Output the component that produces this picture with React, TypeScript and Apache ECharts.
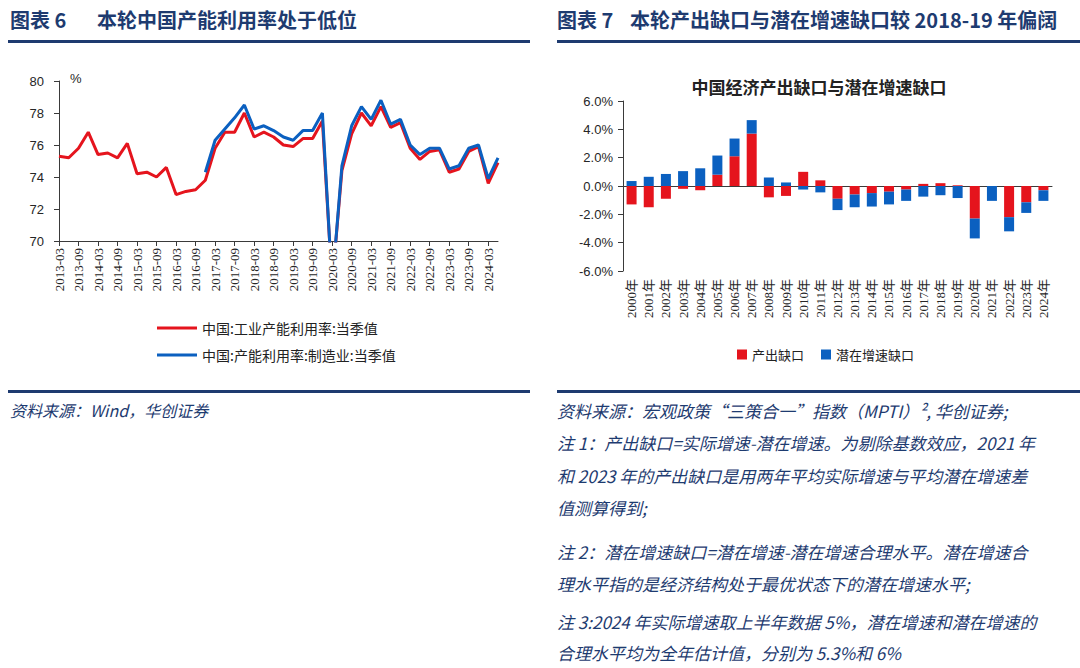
import React, { useEffect, useRef } from "react";
import * as echarts from "echarts";

const quarters = [
  "2013-03", "2013-06", "2013-09", "2013-12",
  "2014-03", "2014-06", "2014-09", "2014-12",
  "2015-03", "2015-06", "2015-09", "2015-12",
  "2016-03", "2016-06", "2016-09", "2016-12",
  "2017-03", "2017-06", "2017-09", "2017-12",
  "2018-03", "2018-06", "2018-09", "2018-12",
  "2019-03", "2019-06", "2019-09", "2019-12",
  "2020-03", "2020-06", "2020-09", "2020-12",
  "2021-03", "2021-06", "2021-09", "2021-12",
  "2022-03", "2022-06", "2022-09", "2022-12",
  "2023-03", "2023-06", "2023-09", "2023-12",
  "2024-03", "2024-06",
];

const industrialUtil = [
  75.3, 75.2, 75.8, 76.8,
  75.4, 75.5, 75.2, 76.1,
  74.2, 74.3, 74.0, 74.6,
  72.9, 73.1, 73.2, 73.8,
  75.8, 76.8, 76.8, 78.0,
  76.5, 76.8, 76.5, 76.0,
  75.9, 76.4, 76.4, 77.5,
  67.3, 74.4, 76.7, 78.0,
  77.2, 78.4, 77.1, 77.4,
  75.8, 75.1, 75.6, 75.7,
  74.3, 74.5, 75.6, 75.9,
  73.6, 74.9,
];

const manufacturingUtil = [
  null, null, null, null,
  null, null, null, null,
  null, null, null, null,
  null, null, null, 74.3,
  76.3, 77.0, 77.7, 78.5,
  77.0, 77.2, 76.9, 76.5,
  76.3, 76.9, 76.9, 78.0,
  67.2, 74.7, 77.2, 78.4,
  77.6, 78.8, 77.3, 77.6,
  76.0, 75.4, 75.8, 75.8,
  74.5, 74.7, 75.8, 76.0,
  73.9, 75.2,
];

const years = [
  "2000年", "2001年", "2002年", "2003年", "2004年", "2005年", "2006年",
  "2007年", "2008年", "2009年", "2010年", "2011年", "2012年", "2013年",
  "2014年", "2015年", "2016年", "2017年", "2018年", "2019年", "2020年",
  "2021年", "2022年", "2023年", "2024年",
];

const outputGap = [
  -1.3, -1.5, -0.9, -0.2, -0.3, 0.8, 2.1, 3.7, -0.8, -0.7, 1.0, 0.4, -0.9,
  -0.6, -0.5, -0.4, -0.25, 0.15, 0.2, 0.05, -2.3, 0.0, -2.2, -1.15, -0.3,
];

const potentialGap = [
  0.35, 0.65, 0.85, 1.05, 1.25, 1.35, 1.25, 0.95, 0.6, 0.25, -0.25, -0.45,
  -0.8, -0.9, -0.95, -0.9, -0.8, -0.75, -0.65, -0.85, -1.4, -1.05, -1.0,
  -0.75, -0.75,
];

const lineNames = ["中国:工业产能利用率:当季值", "中国:产能利用率:制造业:当季值"];
const barNames = ["产出缺口", "潜在增速缺口"];

const NAVY = "#1E3B70";
const RED = "#E5141D";
const BLUE = "#0B60C0";
const AXIS = "#3a3a3a";
const CJK = "Noto Sans CJK SC";

const noteLines = [
  { y: 410, text: "资料来源：宏观政策“三策合一”指数（MPTI）², 华创证券;" },
  { y: 442, text: "注 1：产出缺口=实际增速-潜在增速。为剔除基数效应，2021 年" },
  { y: 475, text: "和 2023 年的产出缺口是用两年平均实际增速与平均潜在增速差" },
  { y: 507, text: "值测算得到;" },
  { y: 551, text: "注 2：潜在增速缺口=潜在增速-潜在增速合理水平。潜在增速合" },
  { y: 583, text: "理水平指的是经济结构处于最优状态下的潜在增速水平;" },
  { y: 621, text: "注 3:2024 年实际增速取上半年数据 5%，潜在增速和潜在增速的" },
  { y: 652, text: "合理水平均为全年估计值，分别为 5.3%和 6%" },
];

export default function App() {
  const ref = useRef<HTMLDivElement>(null);

  useEffect(() => {
    if (!ref.current) return;
    const chart = echarts.init(ref.current, undefined, { renderer: "svg" });

    const headerText = (x: number, text: string) => ({
      type: "text",
      x,
      y: 19,
      style: {
        text,
        fill: NAVY,
        font: `bold 20px "${CJK}"`,
        verticalAlign: "middle",
        textAlign: "left",
      },
    });

    const graphic: any[] = [
      headerText(10, "图表 6"),
      headerText(97, "本轮中国产能利用率处于低位"),
      headerText(557, "图表 7"),
      headerText(630, "本轮产出缺口与潜在增速缺口较 2018-19 年偏阔"),
      { type: "rect", shape: { x: 8, y: 40, width: 522, height: 3 }, style: { fill: NAVY } },
      { type: "rect", shape: { x: 557, y: 40, width: 523, height: 3 }, style: { fill: NAVY } },
      { type: "rect", shape: { x: 8, y: 390, width: 522, height: 3 }, style: { fill: NAVY } },
      { type: "rect", shape: { x: 557, y: 390, width: 523, height: 3 }, style: { fill: NAVY } },
      {
        type: "text",
        x: 70,
        y: 78,
        style: { text: "%", fill: "#262626", font: '13px "Liberation Sans"', verticalAlign: "middle" },
      },
      {
        type: "text",
        x: 819,
        y: 86,
        style: {
          text: "中国经济产出缺口与潜在增速缺口",
          fill: "#222",
          font: `bold 17px "${CJK}"`,
          textAlign: "center",
          verticalAlign: "middle",
        },
      },
      {
        type: "text",
        x: 10,
        y: 410,
        style: {
          text: "资料来源：Wind，华创证券",
          fill: NAVY,
          font: `italic 16px "${CJK}"`,
          verticalAlign: "middle",
        },
      },
      ...noteLines.map((l) => ({
        type: "text",
        x: 557,
        y: l.y,
        style: {
          text: l.text,
          fill: NAVY,
          font: `italic 17px "${CJK}"`,
          verticalAlign: "middle",
        },
      })),
    ];

    const option: any = {
      animation: false,
      backgroundColor: "#ffffff",
      textStyle: { fontFamily: `"Liberation Sans", "${CJK}"` },
      grid: [
        { left: 59, top: 81, width: 439, height: 160 },
        { left: 623, top: 101, width: 429, height: 170 },
      ],
      legend: [
        {
          data: lineNames,
          orient: "vertical",
          left: 152,
          top: 316,
          icon: "rect",
          itemWidth: 40,
          itemHeight: 3,
          itemGap: 13,
          textStyle: { fontSize: 14, color: "#222", fontFamily: CJK },
        },
        {
          data: barNames,
          orient: "horizontal",
          left: 732,
          top: 343,
          icon: "rect",
          itemWidth: 10,
          itemHeight: 10,
          itemGap: 17,
          textStyle: { fontSize: 13, color: "#222", fontFamily: CJK },
        },
      ],
      xAxis: [
        {
          gridIndex: 0,
          type: "category",
          data: quarters,
          boundaryGap: false,
          axisLine: { lineStyle: { color: AXIS, width: 1 } },
          axisTick: { interval: 1, length: 5, lineStyle: { color: AXIS } },
          axisLabel: {
            interval: 1,
            rotate: 90,
            fontSize: 13,
            fontFamily: "Liberation Serif",
            color: "#262626",
            margin: 7,
          },
          splitLine: { show: false },
        },
        {
          gridIndex: 1,
          type: "category",
          data: years,
          axisLine: { onZero: true, lineStyle: { color: AXIS, width: 1 } },
          axisTick: { length: 4, lineStyle: { color: AXIS } },
          axisLabel: { show: false },
          splitLine: { show: false },
        },
        {
          gridIndex: 1,
          type: "category",
          data: years,
          position: "bottom",
          axisLine: { show: false, onZero: false },
          axisTick: { show: false },
          axisLabel: {
            interval: 0,
            rotate: 90,
            fontSize: 13,
            fontFamily: `"Liberation Serif", "${CJK}"`,
            color: "#262626",
            margin: 8,
          },
          splitLine: { show: false },
        },
      ],
      yAxis: [
        {
          gridIndex: 0,
          type: "value",
          min: 70,
          max: 80,
          interval: 2,
          axisLine: { show: true, lineStyle: { color: AXIS, width: 1 } },
          axisTick: { show: true, length: 5, lineStyle: { color: AXIS } },
          splitLine: { show: false },
          axisLabel: { fontSize: 13, color: "#262626", margin: 15, fontFamily: "Liberation Sans" },
        },
        {
          gridIndex: 1,
          type: "value",
          min: -6,
          max: 6,
          interval: 2,
          axisLine: { show: true, lineStyle: { color: AXIS, width: 1 } },
          axisTick: { show: true, length: 5, lineStyle: { color: AXIS } },
          splitLine: { show: false },
          axisLabel: {
            fontSize: 13,
            color: "#262626",
            margin: 10,
            fontFamily: "Liberation Sans",
            formatter: (v: number) => v.toFixed(1) + "%",
          },
        },
      ],
      series: [
        {
          name: lineNames[0],
          type: "line",
          xAxisIndex: 0,
          yAxisIndex: 0,
          data: industrialUtil,
          symbol: "none",
          clip: true,
          lineStyle: { width: 3, color: RED },
          itemStyle: { color: RED },
        },
        {
          name: lineNames[1],
          type: "line",
          xAxisIndex: 0,
          yAxisIndex: 0,
          data: manufacturingUtil,
          symbol: "none",
          clip: true,
          connectNulls: false,
          lineStyle: { width: 3, color: BLUE },
          itemStyle: { color: BLUE },
        },
        {
          name: barNames[0],
          type: "bar",
          xAxisIndex: 1,
          yAxisIndex: 1,
          stack: "gap",
          barWidth: 10,
          data: outputGap,
          itemStyle: { color: RED },
        },
        {
          name: barNames[1],
          type: "bar",
          xAxisIndex: 1,
          yAxisIndex: 1,
          stack: "gap",
          barWidth: 10,
          data: potentialGap,
          itemStyle: { color: BLUE },
        },
      ],
      graphic,
    };

    chart.setOption(option);
    return () => chart.dispose();
  }, []);

  return (
    <div
      ref={ref}
      style={{ position: "absolute", left: 0, top: 0, width: 1080, height: 668, background: "#fff" }}
    />
  );
}
